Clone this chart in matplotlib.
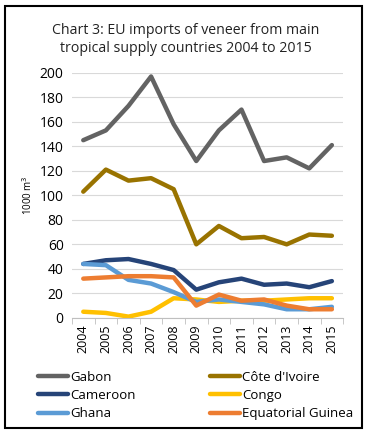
import numpy as np
import matplotlib.pyplot as plt
from matplotlib.patches import Rectangle

years = list(range(2004, 2016))
gabon = [145, 153, 173, 197, 158, 128, 153, 170, 128, 131, 122, 141]
cote = [103, 121, 112, 114, 105, 60, 75, 65, 66, 60, 68, 67]
cameroon = [44, 47, 48, 44, 39, 23, 29, 32, 27, 28, 25, 30]
congo = [5, 4, 1, 5, 16, 15, 13, 14, 14, 15, 16, 16]
ghana = [44, 43, 31, 28, 21, 13, 15, 13, 11, 7, 7, 9]
eq_guinea = [32, 33, 34, 34, 33, 10, 19, 14, 15, 10, 7, 7]

series = [("Gabon", gabon, "#636363"),
          ("Côte d'Ivoire", cote, "#997300"),
          ("Cameroon", cameroon, "#264478"),
          ("Congo", congo, "#FFC000"),
          ("Ghana", ghana, "#5B9BD5"),
          ("Equatorial Guinea", eq_guinea, "#ED7D31")]

plt.rcParams['font.family'] = ['Open Sans', 'DejaVu Sans']

fig = plt.figure(figsize=(3.71, 4.36), dpi=100)
ax = fig.add_axes([0.194, 0.271, 0.731, 0.562])

lines = {}
for name, vals, col in series:
    lines[name], = ax.plot(years, vals, color=col, lw=3.2, label=name, solid_capstyle='round')

ax.set_xlim(2003.5, 2015.5)
ax.set_ylim(0, 200)
ax.set_yticks(np.arange(0, 201, 20))
ax.set_xticks(years)
ax.set_xticklabels([str(y) for y in years], rotation=90, fontsize=9)
ax.tick_params(axis='y', length=0, labelsize=10, pad=6)
ax.tick_params(axis='x', length=0, pad=5)
# category boundary ticks, Excel style
ax.set_xticks(np.arange(2003.5, 2016, 1), minor=True)
ax.tick_params(axis='x', which='minor', length=4, color='#bfbfbf')
ax.grid(axis='y', color='#d9d9d9', lw=0.8)
ax.set_axisbelow(True)
for s in ['top', 'right', 'left']:
    ax.spines[s].set_visible(False)
ax.spines['bottom'].set_color('#bfbfbf')
ax.set_ylabel('1000 m$^3$', fontsize=7, labelpad=3)

fig.text(0.5, 0.91, 'Chart 3: EU imports of veneer from main\ntropical supply countries 2004 to 2015',
         ha='center', va='center', fontsize=10.2, linespacing=1.25, color='#222222')

# row-wise legend order like the original
order = ["Gabon", "Cameroon", "Ghana", "Côte d'Ivoire", "Congo", "Equatorial Guinea"]
leg = fig.legend([lines[n] for n in order], order, loc='upper left',
                 bbox_to_anchor=(0.085, 0.165), ncol=2, frameon=False,
                 fontsize=9.5, handlelength=2.3, handletextpad=0.15, columnspacing=5.6,
                 labelspacing=0.4, borderpad=0)
for line in leg.get_lines():
    line.set_linewidth(3.2)

fig.patches.append(Rectangle((5 / 371, 1 - 428 / 436), 357 / 371, 422 / 436,
                             transform=fig.transFigure, fill=False, ec='black', lw=1.5))

fig.savefig('out.png', dpi=100)
